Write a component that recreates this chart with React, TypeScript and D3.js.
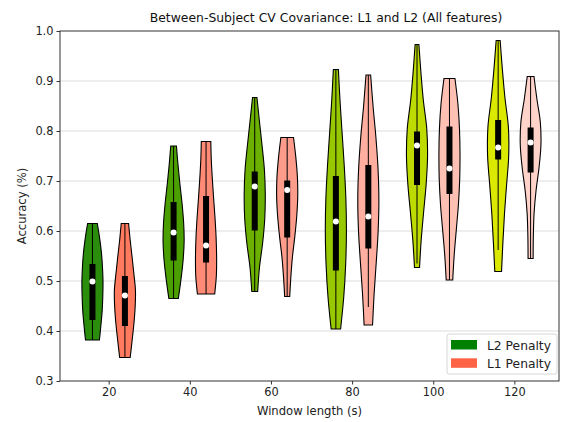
import React, { useEffect, useRef } from 'react';
import * as d3 from 'd3';

// window lengths (s)
const windows = [20, 40, 60, 80, 100, 120];
const yTicks = [0.3, 0.4, 0.5, 0.6, 0.7, 0.8, 0.9, 1.0];

// L2 penalty violins
const l2Min = [0.382, 0.465, 0.479, 0.404, 0.527, 0.519];
const l2Max = [0.615, 0.77, 0.867, 0.923, 0.973, 0.981];
const l2Q1 = [0.422, 0.541, 0.601, 0.521, 0.692, 0.743];
const l2Median = [0.499, 0.597, 0.689, 0.619, 0.771, 0.767];
const l2Q3 = [0.534, 0.658, 0.719, 0.71, 0.799, 0.822];
const l2WhiskerLo = [0.382, 0.465, 0.479, 0.404, 0.535, 0.562];
const l2WhiskerHi = [0.615, 0.77, 0.867, 0.923, 0.973, 0.981];
// relative width, bottom (min) to top (max)
const l2Shape = [
  [0.66, 0.8, 0.92, 0.98, 1.0, 0.95, 0.85, 0.68, 0.46],
  [0.45, 0.7, 0.9, 1.0, 0.95, 0.8, 0.6, 0.42, 0.27],
  [0.28, 0.45, 0.75, 0.95, 1.0, 0.92, 0.7, 0.45, 0.21],
  [0.45, 0.75, 0.93, 1.0, 0.95, 0.8, 0.6, 0.4, 0.24],
  [0.24, 0.4, 0.63, 0.87, 1.0, 0.92, 0.6, 0.37, 0.18],
  [0.32, 0.45, 0.6, 0.8, 1.0, 0.97, 0.65, 0.4, 0.19],
];

// L1 penalty violins
const l1Min = [0.347, 0.474, 0.469, 0.412, 0.502, 0.545];
const l1Max = [0.615, 0.779, 0.787, 0.912, 0.905, 0.909];
const l1Q1 = [0.41, 0.537, 0.587, 0.565, 0.674, 0.717];
const l1Median = [0.471, 0.571, 0.682, 0.629, 0.725, 0.777];
const l1Q3 = [0.51, 0.67, 0.701, 0.732, 0.809, 0.807];
const l1WhiskerLo = [0.347, 0.474, 0.469, 0.448, 0.502, 0.545];
const l1WhiskerHi = [0.615, 0.779, 0.787, 0.912, 0.905, 0.909];
const l1Shape = [
  [0.5, 0.68, 0.85, 0.97, 1.0, 0.85, 0.68, 0.5, 0.35],
  [0.82, 0.98, 1.0, 0.95, 0.85, 0.72, 0.6, 0.5, 0.45],
  [0.24, 0.35, 0.5, 0.72, 0.9, 1.0, 0.97, 0.82, 0.6],
  [0.4, 0.55, 0.75, 0.93, 1.0, 0.92, 0.72, 0.45, 0.22],
  [0.31, 0.45, 0.65, 0.85, 0.97, 1.0, 0.95, 0.8, 0.52],
  [0.24, 0.26, 0.33, 0.52, 0.8, 0.98, 0.92, 0.6, 0.32],
];

const l2Colors = ['#2a8d0c', '#4c9f00', '#6cb100', '#98c900', '#bddb00', '#dbe800'];
const l1Colors = ['#ff7a5e', '#ff8b77', '#fd9c8b', '#ffaea0', '#ffc0b4', '#ffd3ca'];

const W = 562;
const H = 422;
const FONT = 'DejaVu Sans, Verdana, sans-serif';

const App: React.FC = () => {
  const svgRef = useRef<SVGSVGElement>(null);

  useEffect(() => {
    if (!svgRef.current) return;
    const svg = d3.select(svgRef.current);
    svg.selectAll('*').remove();

    const margin = { top: 31, right: 3, bottom: 41, left: 60 };
    const x = d3.scaleLinear().domain([8, 131]).range([margin.left, W - margin.right]);
    const y = d3.scaleLinear().domain([0.3, 1.0]).range([H - margin.bottom, margin.top]);

    svg.append('rect').attr('width', W).attr('height', H).attr('fill', '#fff');

    // grid
    svg.append('g')
      .selectAll('line')
      .data(yTicks.slice(1, -1))
      .enter()
      .append('line')
      .attr('x1', margin.left)
      .attr('x2', W - margin.right)
      .attr('y1', d => y(d))
      .attr('y2', d => y(d))
      .attr('stroke', '#dcdcdc')
      .attr('stroke-width', 1);

    const halfW = 2.6; // data units
    const drawViolin = (
      center: number,
      lo: number,
      hi: number,
      shape: number[],
      q1: number,
      med: number,
      q3: number,
      wLo: number,
      wHi: number,
      fill: string
    ) => {
      const n = shape.length;
      const pts = shape.map((w, i) => ({ v: lo + (i / (n - 1)) * (hi - lo), w }));
      const area = d3.area<{ v: number; w: number }>()
        .y(d => y(d.v))
        .x0(d => x(center - d.w * halfW))
        .x1(d => x(center + d.w * halfW))
        .curve(d3.curveCatmullRom);
      svg.append('path')
        .attr('d', area(pts) || '')
        .attr('fill', fill)
        .attr('stroke', '#000')
        .attr('stroke-width', 1.1);
      svg.append('line')
        .attr('x1', x(center)).attr('x2', x(center))
        .attr('y1', y(wLo)).attr('y2', y(wHi))
        .attr('stroke', '#000').attr('stroke-width', 1);
      svg.append('rect')
        .attr('x', x(center) - 3)
        .attr('width', 6)
        .attr('y', y(q3))
        .attr('height', y(q1) - y(q3))
        .attr('fill', '#000');
      svg.append('circle')
        .attr('cx', x(center))
        .attr('cy', y(med))
        .attr('r', 3)
        .attr('fill', '#fff');
    };

    windows.forEach((wl, i) => {
      drawViolin(wl - 4, l2Min[i], l2Max[i], l2Shape[i], l2Q1[i], l2Median[i], l2Q3[i], l2WhiskerLo[i], l2WhiskerHi[i], l2Colors[i]);
      drawViolin(wl + 4, l1Min[i], l1Max[i], l1Shape[i], l1Q1[i], l1Median[i], l1Q3[i], l1WhiskerLo[i], l1WhiskerHi[i], l1Colors[i]);
    });

    // frame
    svg.append('rect')
      .attr('x', margin.left)
      .attr('y', margin.top)
      .attr('width', W - margin.right - margin.left)
      .attr('height', H - margin.bottom - margin.top)
      .attr('fill', 'none')
      .attr('stroke', '#333')
      .attr('stroke-width', 1);

    // axes
    const yAxis = svg.append('g')
      .attr('transform', `translate(${margin.left},0)`)
      .call(d3.axisLeft(y).tickValues(yTicks).tickFormat(d3.format('.1f')).tickSize(3.5).tickPadding(3));
    const xAxis = svg.append('g')
      .attr('transform', `translate(0,${H - margin.bottom})`)
      .call(d3.axisBottom(x).tickValues(windows).tickFormat(d3.format('d')).tickSize(3.5).tickPadding(3));
    [xAxis, yAxis].forEach(g => {
      g.select('.domain').remove();
      g.selectAll('line').attr('stroke', '#333');
      g.selectAll('text').attr('fill', '#222').style('font-family', FONT).style('font-size', '11.4px');
    });

    // labels
    svg.append('text')
      .attr('x', (margin.left + W - margin.right) / 2)
      .attr('y', 415)
      .attr('text-anchor', 'middle')
      .style('font-family', FONT)
      .style('font-size', '11.6px')
      .attr('fill', '#222')
      .text('Window length (s)');
    svg.append('text')
      .attr('transform', `translate(26,${(margin.top + H - margin.bottom) / 2}) rotate(-90)`)
      .attr('text-anchor', 'middle')
      .style('font-family', FONT)
      .style('font-size', '11.6px')
      .attr('fill', '#222')
      .text('Accuracy (%)');
    svg.append('text')
      .attr('x', 326)
      .attr('y', 22)
      .attr('text-anchor', 'middle')
      .style('font-family', FONT)
      .style('font-size', '12.4px')
      .attr('fill', '#111')
      .text('Between-Subject CV Covariance: L1 and L2 (All features)');

    // legend
    const lg = svg.append('g').attr('transform', 'translate(447,334)');
    lg.append('rect')
      .attr('width', 110).attr('height', 40).attr('rx', 2)
      .attr('fill', '#fff').attr('stroke', '#d6d6d6');
    const items = [
      { label: 'L2 Penalty', color: '#008000' },
      { label: 'L1 Penalty', color: '#ff6347' },
    ];
    items.forEach((it, i) => {
      lg.append('rect')
        .attr('x', 4).attr('y', 6 + i * 18.3)
        .attr('width', 26).attr('height', 9.5)
        .attr('fill', it.color);
      lg.append('text')
        .attr('x', 40).attr('y', 15.5 + i * 18.3)
        .style('font-family', FONT)
        .style('font-size', '12.3px')
        .attr('fill', '#222')
        .text(it.label);
    });
  }, []);

  return (
    <svg
      ref={svgRef}
      width={W}
      height={H}
      style={{ position: 'absolute', left: 0, top: 0 }}
    />
  );
};

export default App;
